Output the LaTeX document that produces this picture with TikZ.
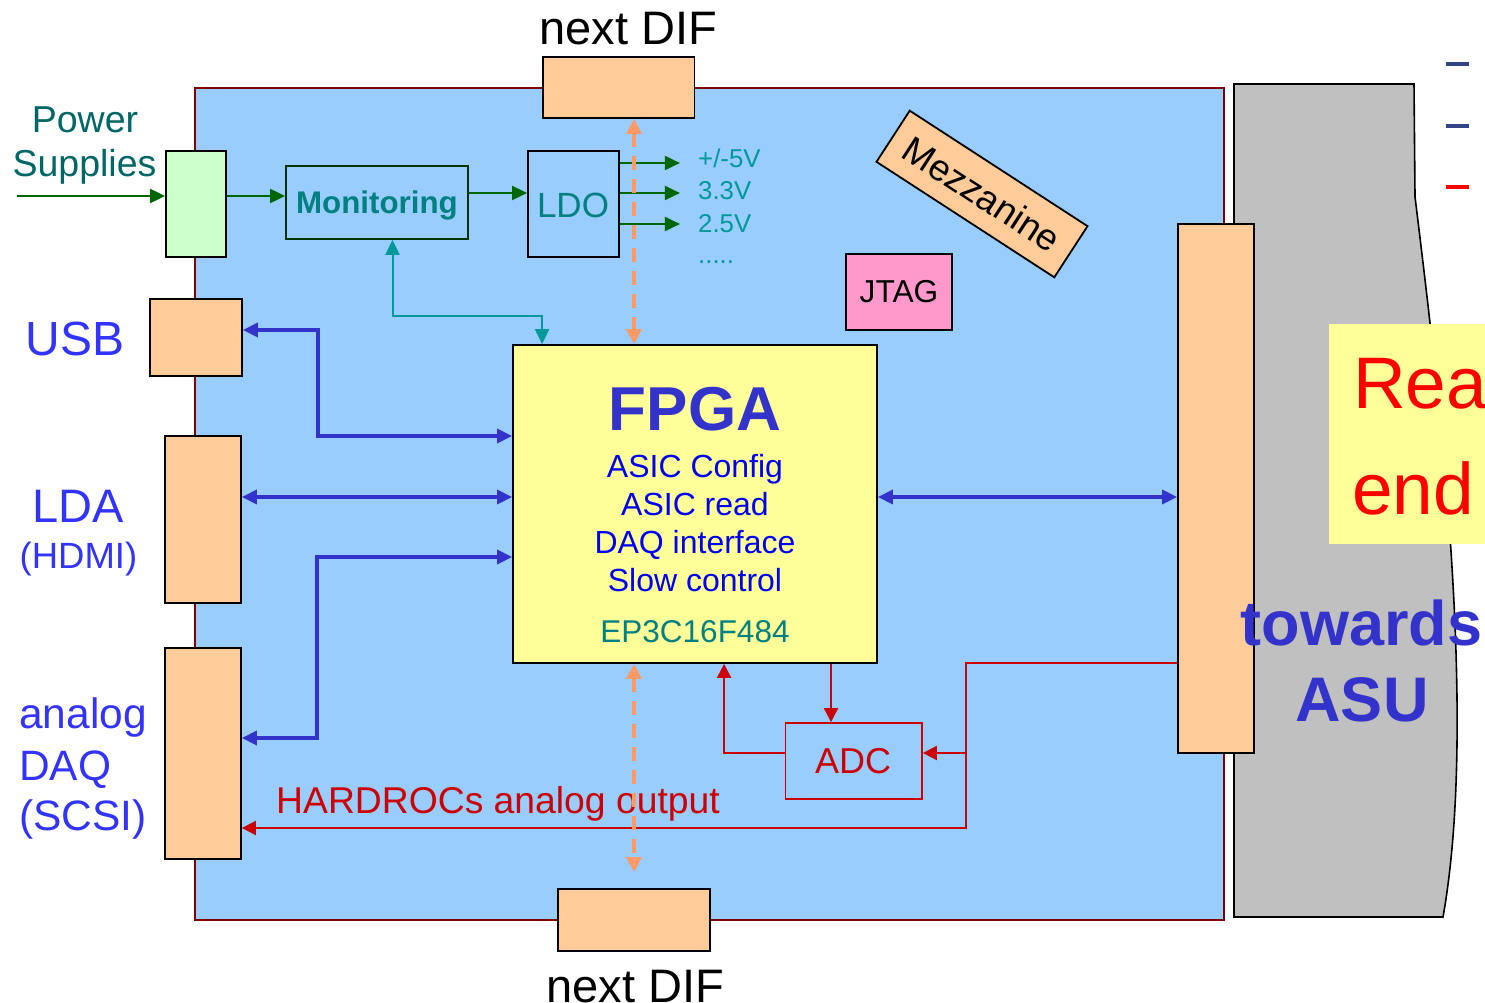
\documentclass[tikz,border=0pt]{standalone}
\usepackage{fontspec}
\setmainfont{Liberation Sans}
\usepackage{xcolor}
\usetikzlibrary{arrows.meta,positioning}

\definecolor{pcbfill}{HTML}{99CCFF}
\definecolor{pcbline}{HTML}{800000}
\definecolor{connfill}{HTML}{FFCC99}
\definecolor{psfill}{HTML}{CCFFCC}
\definecolor{fpgafill}{HTML}{FFFF99}
\definecolor{jtagfill}{HTML}{FF99CC}
\definecolor{asugray}{HTML}{C0C0C0}
\definecolor{tealtxt}{HTML}{008080}
\definecolor{pstxt}{HTML}{006666}
\definecolor{volttxt}{HTML}{009999}
\definecolor{pwrline}{HTML}{006600}
\definecolor{monline}{HTML}{003300}
\definecolor{iftxt}{HTML}{3333FF}
\definecolor{fpgablue}{HTML}{3333CC}
\definecolor{fnblue}{HTML}{0000EE}
\definecolor{sigred}{HTML}{CC0000}
\definecolor{busorange}{HTML}{FF9966}
\definecolor{bulletblue}{HTML}{334488}

\begin{document}
\begin{tikzpicture}[
  x=1pt, y=-1pt,
  fs/.style={font=\fontsize{#1}{#1}\selectfont},
  fsb/.style={font=\bfseries\fontsize{#1}{#1}\selectfont},
  box/.style={draw=black, line width=1.8pt, inner sep=0pt},
  conn/.style={box, fill=connfill},
  txt/.style={inner sep=0pt, anchor=base},
  volt/.style={txt, anchor=base west, fs=25.8, text=volttxt},
  grnarr/.style={draw=pwrline, line width=2pt, -{Triangle[length=15pt,width=14pt]}},
  bluarr/.style={draw=fpgablue, line width=3.5pt, {Triangle[length=15pt,width=14pt]}-{Triangle[length=15pt,width=14pt]}},
  redarr/.style={draw=sigred, line width=2pt, -{Triangle[length=14pt,width=14pt]}},
  tealarr/.style={draw=volttxt, line width=2pt, {Triangle[length=15pt,width=14pt]}-{Triangle[length=15pt,width=14pt]}},
  orgarr/.style={draw=busorange, line width=3.5pt, dash pattern=on 14pt off 9pt, {Triangle[length=15pt,width=15pt]}-{Triangle[length=15pt,width=15pt]}}
]
\useasboundingbox (0,0) rectangle (1485,1003);
\clip (0,0) rectangle (1485,1003);

\node[draw=pcbline, line width=2.5pt, fill=pcbfill, minimum width=1029pt, minimum height=832pt, inner sep=0pt] (pcb) at (709.5,504) {};
\draw[fill=asugray, line width=1.6pt] (1234,84) -- (1414,84) -- (1415,197) .. controls (1440,400) and (1478,720) .. (1443,917) -- (1234,917) -- cycle;

\node[conn, minimum width=151.5pt, minimum height=61pt] (topdif) at (618.75,87.5) {};
\node[conn, minimum width=152pt, minimum height=62pt] (botdif) at (634,920) {};
\node[box, fill=psfill, minimum width=60pt, minimum height=106pt] (ps) at (196,204) {};
\node[box, draw=monline, minimum width=182pt, minimum height=73pt] (mon) at (377,202.5) {};
\node[box, minimum width=91pt, minimum height=106pt] (ldo) at (573.5,204) {};
\node[conn, minimum width=92pt, minimum height=77pt] (usb) at (196,337.5) {};
\node[conn, minimum width=76pt, minimum height=167pt] (lda) at (203,519.5) {};
\node[conn, minimum width=76pt, minimum height=211pt] (daq) at (203,753.5) {};
\node[box, fill=fpgafill, minimum width=364pt, minimum height=318pt] (fpga) at (695,504) {};
\node[conn, minimum width=76pt, minimum height=529pt] (asuconn) at (1216,488.5) {};
\node[box, fill=jtagfill, minimum width=106pt, minimum height=76pt] (jtag) at (899,292) {};
\node[box, draw=sigred, minimum width=136.5pt, minimum height=76pt] (adc) at (853.75,761) {};
\node[box, fill=connfill, minimum width=212pt, minimum height=61pt, rotate=-33, fs=37] (mezz) at (982,194) {Mezzanine};
\node[fill=fpgafill, minimum width=171pt, minimum height=220pt, inner sep=0pt] (readbox) at (1414.5,434) {};

\node[txt, fs=47] (topdiflbl) at (628.5,45) {next DIF};
\node[txt, fs=47] (botdiflbl) at (635.5,1002) {next DIF};
\node[txt, fs=37.5, text=pstxt] (pslbla) at (85,133) {Power};
\node[txt, fs=37.5, text=pstxt] (pslblb) at (84.5,177) {Supplies};
\node[txt, fsb=31.3, text=tealtxt] (monlbl) at (377,213) {Monitoring};
\node[txt, fs=35, text=tealtxt] (ldolbl) at (573,217) {LDO};
\node[txt, fs=48, text=iftxt] (usblbl) at (75,355) {USB};
\node[txt, fs=47, text=iftxt] (ldalbl) at (78,522) {LDA};
\node[txt, fs=36.5, text=iftxt] (hdmilbl) at (78.5,568) {(HDMI)};
\node[txt, anchor=base west, fs=42.5, text=iftxt] (daqlbla) at (19,728) {analog};
\node[txt, anchor=base west, fs=42.5, text=iftxt] (daqlblb) at (19,780) {DAQ};
\node[txt, anchor=base west, fs=42.5, text=iftxt] (daqlblc) at (19,830) {(SCSI)};
\node[txt, fsb=62, text=fpgablue] (fpgattl) at (695,430) {FPGA};
\foreach \fn [count=\i] in {ASIC Config, ASIC read, DAQ interface, Slow control}
  \node[txt, fs=32, text=fnblue] (fpgafn\i) at (695,{477+38.3*(\i-1)}) {\fn};
\node[txt, fs=31.5, text=tealtxt] (fpgapart) at (695,642) {EP3C16F484};
\node[txt, fs=31.7] (jtaglbl) at (899,302) {JTAG};
\node[txt, fs=36, text=sigred] (adclbl) at (853,773) {ADC};
\node[txt, anchor=base west, fs=73, text=red] (readlbla) at (1353,408) {Rea};
\node[txt, anchor=base west, fs=73, text=red] (readlblb) at (1352,514) {end};
\node[txt, fsb=63, text=fpgablue] (asulbla) at (1361.5,645) {towards};
\node[txt, fsb=63, text=fpgablue] (asulblb) at (1362,721) {ASU};

\coordinate (psin) at (17,196);
\draw[grnarr] (psin) -- ([yshift=8pt]ps.west);
\draw[grnarr] ([yshift=8pt]ps.east) -- ([yshift=6.5pt]mon.west);
\draw[grnarr] ([yshift=9.5pt]mon.east) -- ([yshift=11pt]ldo.west);
\foreach \dy/\vlab/\vb [count=\i] in {41/{+/-5V}/168, 11/3.3V/200, -20/2.5V/232} {
  \draw[grnarr] ([yshift=\dy pt]ldo.east) -- ++(60,0);
  \node[volt] (volt\i) at (698,\vb) {\vlab};
}
\node[volt] (voltmore) at (698,263) {.....};

\coordinate (tealin) at ([xshift=30pt]fpga.north west);
\draw[tealarr] ([xshift=15.5pt]mon.south) -- ++(0,76) -| (tealin);

\draw[bluarr] ([yshift=7.5pt]usb.east) -- ++(75,0) |- ([yshift=68pt]fpga.west);
\draw[bluarr] ([yshift=22.5pt]lda.east) -- ([yshift=7pt]fpga.west);
\draw[bluarr] ([yshift=15.5pt]daq.east) -- ++(75,0) |- ([yshift=-53pt]fpga.west);
\draw[bluarr] ([yshift=7pt]fpga.east) -- ([yshift=-8.5pt]asuconn.west);

\coordinate (adcfeed) at ([xshift=-22.75pt]adc.north);
\coordinate (adcret) at ([xshift=212pt]fpga.south west);
\draw[redarr] (adcfeed |- fpga.south) -- (adcfeed);
\draw[redarr] ([yshift=8pt]adc.west) -| (adcret);
\coordinate (hrsrc) at ([yshift=-174.5pt]asuconn.west);
\coordinate (hrjoin) at ([xshift=-211pt]hrsrc);
\draw[redarr] (hrsrc) -- (hrjoin) |- ([yshift=-74.5pt]daq.east);
\draw[redarr] (hrjoin) ++(0,90) -- ([yshift=8pt]adc.east);
\node[txt, anchor=base west, fs=37.3, text=sigred] (hrlbl) at (276,813) {HARDROCs analog output};

\coordinate (busx) at (634,0);
\draw[orgarr] (busx |- topdif.south) -- (busx |- fpga.north);
\draw[orgarr, shorten >=16pt] (busx |- fpga.south) -- (busx |- botdif.north);

\draw[bulletblue, line width=3.5pt] (1446,64) -- (1469,64);
\draw[bulletblue, line width=3.5pt] (1446,126) -- (1469,126);
\draw[red, line width=3.5pt] (1446,187) -- (1469,187);
\end{tikzpicture}
\end{document}
